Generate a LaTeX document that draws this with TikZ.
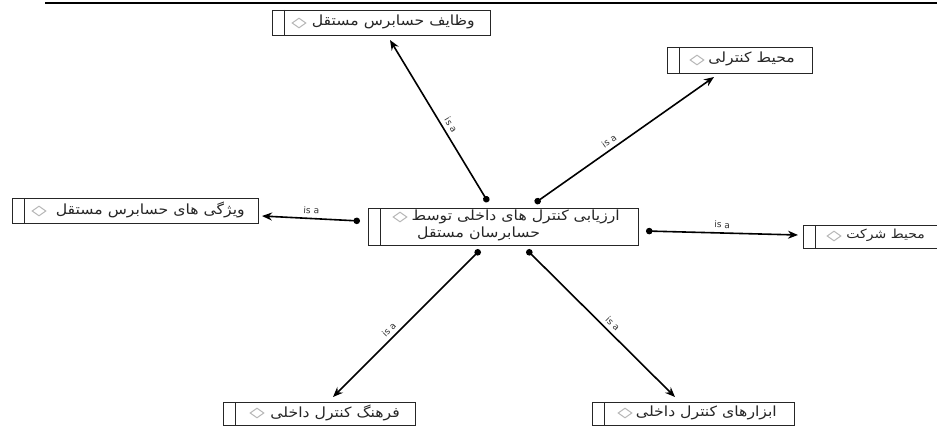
\documentclass[tikz,border=0pt]{standalone}
\usepackage{fontspec}
\setmainfont{DejaVu Sans}
\newfontfamily\arabicfont[Script=Arabic, FakeStretch=1.12]{DejaVu Sans}
\TeXXeTstate=1
\usetikzlibrary{arrows.meta,shapes.geometric,calc}
\newcommand\ebox[5]{%
  \node[entbox, anchor=north west, minimum width={#4-#2}, minimum height={#5-#3}] (#1) at (#2,#3) {};
  \draw[divline] ($(#1.north west)+(12,0)$) -- ($(#1.south west)+(12,0)$);
}
\begin{document}
\begin{tikzpicture}[x=1pt,y=-1pt,
  entbox/.style={draw=black!85, line width=0.9pt, rectangle, inner sep=0pt},
  divline/.style={draw=black!85, line width=0.9pt},
  fa/.style={font=\arabicfont\fontsize{14}{16}\selectfont, inner sep=0pt, text=black!85},
  gem/.style={diamond, draw=black!28, line width=1pt, minimum width=14pt, minimum height=10pt, inner sep=0pt},
  isa/.style={{Circle[length=6.5pt]}-{Stealth[length=10pt,width=8pt]}, line width=1.6pt, black},
  lab/.style={font=\fontsize{9}{10}\selectfont, sloped, above=3pt, inner sep=1pt, text=black!80}
]
\useasboundingbox (0,0) rectangle (937,428);
\fill[white] (0,0) rectangle (937,428);
\draw[line width=2pt] (45,3) coordinate (la) -- (937,3) coordinate (lb);

% boxes
\ebox{top}{272}{10}{490}{35}
\node[gem] (gtop) at (299,23) {};
\node[fa, anchor=east] (ttop) at (475,22) {\beginR وظایف حسابرس مستقل\endR};

\ebox{ctl}{667}{47}{812}{73}
\node[gem] (gctl) at (697,60) {};
\node[fa, anchor=east] (tctl) at (795,59) {\beginR محیط کنترلی\endR};

\ebox{lft}{12}{198}{258}{223}
\node[gem] (glft) at (39,211) {};
\node[fa, anchor=east] (tlft) at (245,210) {\beginR ویژگی های حسابرس مستقل\endR};

\ebox{ctr}{368}{208}{638}{245}
\node[gem] (gctr) at (400,217) {};
\node[fa, anchor=east] (tctr1) at (620,217) {\beginR ارزیابی کنترل های داخلی توسط\endR};
\node[fa, anchor=west] (tctr2) at (417,234) {\beginR حسابرسان مستقل\endR};

\ebox{rgt}{803}{225}{945}{248}
\node[gem] (grgt) at (834,236) {};
\node[fa, anchor=east, font=\arabicfont\fontsize{12.5}{14}\selectfont] (trgt) at (925,235) {\beginR محیط شرکت\endR};

\ebox{bl}{223}{402}{415}{425}
\node[gem] (gbl) at (257,413) {};
\node[fa, anchor=east] (tbl) at (400,413) {\beginR فرهنگ کنترل داخلی\endR};

\ebox{br}{592}{402}{794}{425}
\node[gem] (gbr) at (625,413) {};
\node[fa, anchor=east] (tbr) at (777,413) {\beginR ابزارهای کنترل داخلی\endR};

% connector end points
\coordinate (s1) at (488,202); \coordinate (t1) at (390,40);
\coordinate (s2) at (535,203); \coordinate (t2) at (714,77);
\coordinate (s3) at (360,221); \coordinate (t3) at (262,216);
\coordinate (s4) at (646,231); \coordinate (t4) at (798,235);
\coordinate (s5) at (480,250); \coordinate (t5) at (333,397);
\coordinate (s6) at (527,250); \coordinate (t6) at (675,397);

\draw[isa] (s1) -- node[lab, pos=0.45] (l1) {is a} (t1);
\draw[isa] (s2) -- node[lab, pos=0.44] (l2) {is a} (t2);
\draw[isa] (s3) -- node[lab, pos=0.5] (l3) {is a} (t3);
\draw[isa] (s4) -- node[lab, pos=0.5] (l4) {is a} (t4);
\draw[isa] (s5) -- node[lab, pos=0.58] (l5) {is a} (t5);
\draw[isa] (s6) -- node[lab, pos=0.54] (l6) {is a} (t6);
\end{tikzpicture}
\end{document}
